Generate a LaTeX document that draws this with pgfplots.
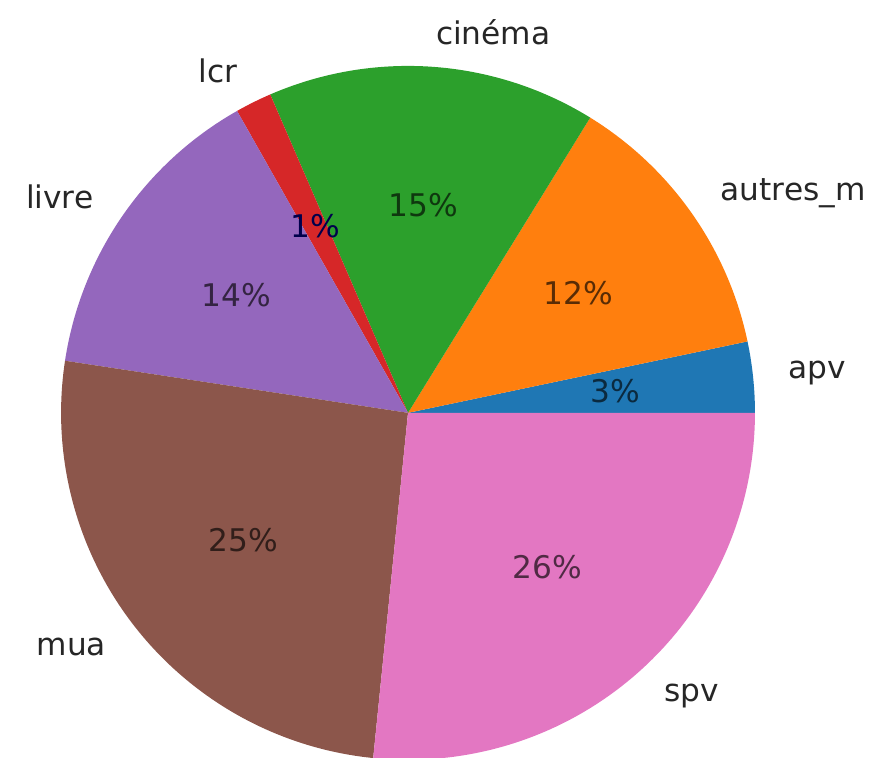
\documentclass[border=0pt]{standalone}
\usepackage{fontspec}
\setmainfont{DejaVu Sans}
\usepackage{pgfplots}
\pgfplotsset{compat=1.18}
\definecolor{C0}{HTML}{1F77B4}
\definecolor{C1}{HTML}{FF7F0E}
\definecolor{C2}{HTML}{2CA02C}
\definecolor{C3}{HTML}{D62728}
\definecolor{C4}{HTML}{9467BD}
\definecolor{C5}{HTML}{8C564B}
\definecolor{C6}{HTML}{E377C2}
\tikzset{lab/.style={font=\fontsize{12.8}{15}\selectfont, inner sep=0pt, text=black!85},
         pct/.style={font=\fontsize{12.8}{15}\selectfont, inner sep=0pt}}
\begin{document}
\begin{tikzpicture}
% shares in percent: apv, autres_m, cinema, lcr, livre, mua, spv
\def\vA{3.3}\def\vB{12.9}\def\vC{15.3}\def\vD{1.7}\def\vE{14.4}\def\vF{25.8}\def\vG{26.6}
\pgfmathsetmacro\aA{0}
\pgfmathsetmacro\aB{\aA+3.6*\vA}
\pgfmathsetmacro\aC{\aB+3.6*\vB}
\pgfmathsetmacro\aD{\aC+3.6*\vC}
\pgfmathsetmacro\aE{\aD+3.6*\vD}
\pgfmathsetmacro\aF{\aE+3.6*\vE}
\pgfmathsetmacro\aG{\aF+3.6*\vF}
\pgfmathsetmacro\aH{\aG+3.6*\vG}
\pgfmathsetmacro\mA{(\aA+\aB)/2}
\pgfmathsetmacro\mB{(\aB+\aC)/2}
\pgfmathsetmacro\mC{(\aC+\aD)/2}
\pgfmathsetmacro\mD{(\aD+\aE)/2}
\pgfmathsetmacro\mE{(\aE+\aF)/2}
\pgfmathsetmacro\mF{(\aF+\aG)/2}
\pgfmathsetmacro\mG{(\aG+\aH)/2}
\begin{axis}[x=5cm, y=5cm, xmin=-1.176, xmax=1.346, ymin=-0.994, ymax=1.190,
  hide axis, clip=false]
\coordinate (SW) at (rel axis cs:0,0);
\coordinate (NE) at (rel axis cs:1,1);
\fill[C0] (axis cs:0,0) -- (axis cs:{cos(\aA)},{sin(\aA)}) arc[start angle=\aA, end angle=\aB, radius=5cm] -- cycle;
\fill[C1] (axis cs:0,0) -- (axis cs:{cos(\aB)},{sin(\aB)}) arc[start angle=\aB, end angle=\aC, radius=5cm] -- cycle;
\fill[C2] (axis cs:0,0) -- (axis cs:{cos(\aC)},{sin(\aC)}) arc[start angle=\aC, end angle=\aD, radius=5cm] -- cycle;
\fill[C3] (axis cs:0,0) -- (axis cs:{cos(\aD)},{sin(\aD)}) arc[start angle=\aD, end angle=\aE, radius=5cm] -- cycle;
\fill[C4] (axis cs:0,0) -- (axis cs:{cos(\aE)},{sin(\aE)}) arc[start angle=\aE, end angle=\aF, radius=5cm] -- cycle;
\fill[C5] (axis cs:0,0) -- (axis cs:{cos(\aF)},{sin(\aF)}) arc[start angle=\aF, end angle=\aG, radius=5cm] -- cycle;
\fill[C6] (axis cs:0,0) -- (axis cs:{cos(\aG)},{sin(\aG)}) arc[start angle=\aG, end angle=\aH, radius=5cm] -- cycle;
% outer labels
\node[lab, anchor=west] at (axis cs:{1.1*cos(\mA)},{1.1*sin(\mA)}) {apv};
\node[lab, anchor=west] at (axis cs:{1.1*cos(\mB)},{1.1*sin(\mB)}) {autres\_m};
\node[lab, anchor=west] at (axis cs:{1.1*cos(\mC)},{1.1*sin(\mC)}) {cinéma};
\node[lab, anchor=east] at (axis cs:{1.1*cos(\mD)},{1.1*sin(\mD)}) {lcr};
\node[lab, anchor=east] at (axis cs:{1.1*cos(\mE)},{1.1*sin(\mE)}) {livre};
\node[lab, anchor=east] at (axis cs:{1.1*cos(\mF)},{1.1*sin(\mF)}) {mua};
\node[lab, anchor=west] at (axis cs:{1.1*cos(\mG)},{1.1*sin(\mG)}) {spv};
% percentages
\node[pct, text=C0!35!black] at (axis cs:{0.6*cos(\mA)},{0.6*sin(\mA)}) {3\%};
\node[pct, text=C1!35!black] at (axis cs:{0.6*cos(\mB)},{0.6*sin(\mB)}) {12\%};
\node[pct, text=C2!35!black] at (axis cs:{0.6*cos(\mC)},{0.6*sin(\mC)}) {15\%};
\node[pct, text=black!70!blue] at (axis cs:{0.6*cos(\mD)},{0.6*sin(\mD)}) {1\%};
\node[pct, text=C4!35!black] at (axis cs:{0.6*cos(\mE)},{0.6*sin(\mE)}) {14\%};
\node[pct, text=C5!35!black] at (axis cs:{0.6*cos(\mF)},{0.6*sin(\mF)}) {25\%};
\node[pct, text=C6!35!black] at (axis cs:{0.6*cos(\mG)},{0.6*sin(\mG)}) {26\%};
\end{axis}
\pgfresetboundingbox
\useasboundingbox (SW) rectangle (NE);
\end{tikzpicture}
\end{document}
